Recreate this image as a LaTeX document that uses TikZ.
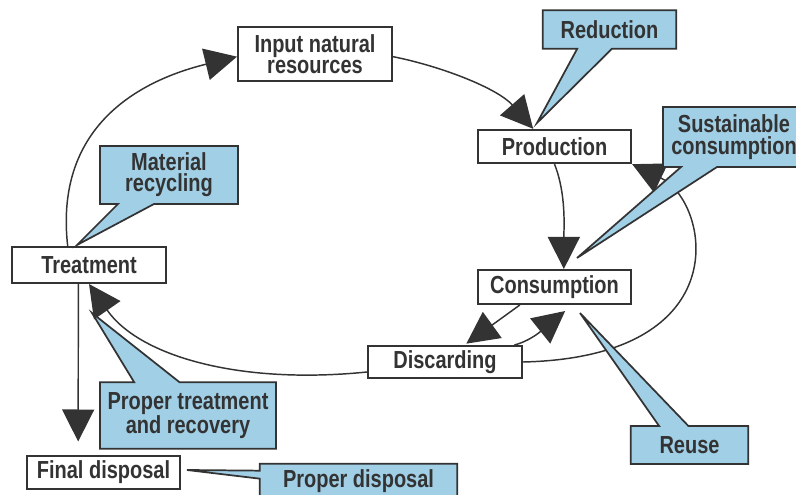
\documentclass[tikz,border=0pt]{standalone}
\usepackage{fontspec}
\setmainfont{Liberation Sans}[FakeStretch=0.81]
\usepackage{tikz}
\usetikzlibrary{arrows.meta}
\usetikzlibrary{shapes.callouts}

\definecolor{ink}{RGB}{51,51,51}
\definecolor{callblue}{RGB}{160,207,230}

\begin{document}
\begin{tikzpicture}[x=0.75pt,y=0.75pt,yscale=-1,xscale=1,
  stage/.style={draw=ink,line width=1.5pt,fill=white,inner sep=0pt,align=center,text=ink,
    font=\bfseries\fontsize{18.5}{16}\selectfont},
  note/.style={rectangle callout,draw=ink,line width=1.3pt,fill=callblue,inner sep=0pt,align=center,text=ink,
    font=\bfseries\fontsize{18.5}{16}\selectfont},
  flow/.style={draw=ink,line width=1.1pt,-{Triangle[length=24pt,width=24pt]}}]
\useasboundingbox (0,0) rectangle (796,495);

% Text Node
\node [stage,minimum width=115.5pt,minimum height=40.5pt] (input) at (315,54) {Input natural\\resources};
% Text Node
\node [stage,minimum width=115pt,minimum height=25pt] (prod) at (554.5,146.5) {Production};
% Text Node
\node [stage,minimum width=115pt,minimum height=25.5pt] (cons) at (554.5,287) {Consumption};
% Text Node
\node [stage,minimum width=115.5pt,minimum height=24pt] (disc) at (445,362) {Discarding};
% Text Node
\node [stage,minimum width=115.5pt,minimum height=27pt] (treat) at (89,265) {Treatment};
% Text Node
\node [stage,minimum width=115pt,minimum height=25pt] (fin) at (103.5,472.5) {Final disposal};

%Curve Lines
\draw [flow] ([xshift=-16pt]treat.north) .. controls +(-14,-125) and +(-90,22) .. ([yshift=2pt]input.west);
\draw [flow] ([yshift=2pt]input.east) .. controls +(50,10) and +(-35,-40) .. ([xshift=-16pt]prod.north);
\draw [flow] (prod.south) .. controls +(12,30) and +(0,-40) .. ([xshift=7pt]cons.north);
\draw [flow] (disc.east) .. controls +(218,-5) and +(77,37) .. (prod.south east);
\draw [flow] ([xshift=-26pt]cons.south) -- ([xshift=16pt,yshift=-1pt]disc.north);
\draw [flow] ([xshift=52pt]disc.north) .. controls +(20,-5) and +(-15,12) .. ([xshift=8pt,yshift=4.5pt]cons.south);
\draw [flow] ([yshift=7.5pt]disc.west) .. controls +(-128,13) and +(50,72) .. (treat.south);
%Straight Lines
\draw [flow] ([xshift=-8pt]treat.south) -- ([xshift=-19pt,yshift=-10pt]fin.north);

%Callout tips
\coordinate (redtip) at (537,123);
\coordinate (sustip) at (577,258);
\coordinate (mattip) at (77,245);
\coordinate (ptrtip) at (92,313);
\coordinate (pdistip) at (187,470);
\coordinate (reusetip) at (580,313);

%Shape: Callouts
\node [note,minimum width=100pt,minimum height=29pt,callout pointer width=26pt,callout absolute pointer={(redtip)}] (red) at (609.5,29.5) {Reduction};
\node [note,minimum width=106.5pt,minimum height=45pt,callout pointer width=27pt,callout absolute pointer={(sustip)}] (sus) at (734,137) {Sustainable\\consumption};
\node [note,minimum width=103.5pt,minimum height=43.5pt,callout pointer width=27pt,callout absolute pointer={(mattip)}] (mat) at (169,175) {Material\\recycling};
\node [note,minimum width=132pt,minimum height=50pt,callout pointer width=34pt,callout absolute pointer={(ptrtip)}] (ptr) at (188,415.5) {Proper treatment\\and recovery};
\node [note,minimum width=148pt,minimum height=26pt,callout pointer width=6pt,callout absolute pointer={(pdistip)}] (pdis) at (358.5,481) {Proper disposal};
\node [note,minimum width=88pt,minimum height=28.5pt,callout pointer width=22pt,callout absolute pointer={(reusetip)}] (reuse) at (689.5,445) {Reuse};

\end{tikzpicture}
\end{document}
